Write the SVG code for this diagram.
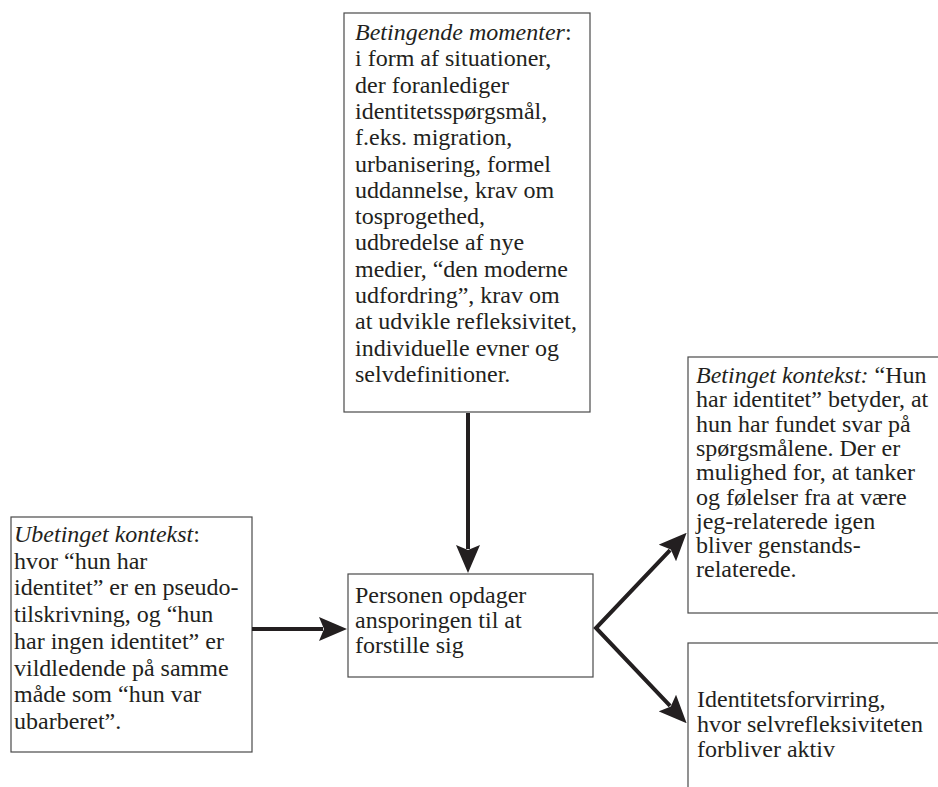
<svg xmlns="http://www.w3.org/2000/svg" width="938" height="787" viewBox="0 0 938 787">
<defs>
<style>
.box{fill:#fff;stroke:#4a4a4a;stroke-width:1.2}
.t{font-family:"Liberation Serif","Times New Roman",serif;font-size:24px;fill:#231f20}
.i{font-style:italic}
.c{fill:none;stroke:#231f20;stroke-width:4;stroke-linejoin:miter;stroke-miterlimit:10}
</style>
<marker id="ah" markerUnits="userSpaceOnUse" viewBox="0 0 28 24" refX="4" refY="12" markerWidth="28" markerHeight="24" orient="auto-start-reverse">
<path d="M0,0 L28,12 L0,24 L5,12 Z" fill="#231f20"/>
</marker>
</defs>
<rect width="938" height="787" fill="#fff"/>

<g id="betingende-momenter">
<rect class="box" x="344" y="13" width="246" height="399"/>
<text class="t" x="355" y="40"><tspan class="i">Betingende momenter</tspan>:<tspan x="355" dy="26.3">i form af situationer,</tspan><tspan x="355" dy="26.3">der foranlediger</tspan><tspan x="355" dy="26.3">identitetsspørgsmål,</tspan><tspan x="355" dy="26.3">f.eks. migration,</tspan><tspan x="355" dy="26.3">urbanisering, formel</tspan><tspan x="355" dy="26.3">uddannelse, krav om</tspan><tspan x="355" dy="26.3">tosprogethed,</tspan><tspan x="355" dy="26.3">udbredelse af nye</tspan><tspan x="355" dy="26.3">medier, “den moderne</tspan><tspan x="355" dy="26.3">udfordring”, krav om</tspan><tspan x="355" dy="26.3">at udvikle refleksivitet,</tspan><tspan x="355" dy="26.3">individuelle evner og</tspan><tspan x="355" dy="26.3">selvdefinitioner.</tspan></text>
</g>

<g id="ubetinget-kontekst">
<rect class="box" x="11" y="517" width="241" height="235"/>
<text class="t" x="14" y="542"><tspan class="i">Ubetinget kontekst</tspan>:<tspan x="14" dy="26.7">hvor “hun har</tspan><tspan x="14" dy="26.7">identitet” er en pseudo-</tspan><tspan x="14" dy="26.7">tilskrivning, og “hun</tspan><tspan x="14" dy="26.7">har ingen identitet” er</tspan><tspan x="14" dy="26.7">vildledende på samme</tspan><tspan x="14" dy="26.7">måde som “hun var</tspan><tspan x="14" dy="26.7">ubarberet”.</tspan></text>
</g>

<g id="personen">
<rect class="box" x="348" y="574" width="245" height="103"/>
<text class="t" x="355" y="603">Personen opdager<tspan x="355" dy="25">ansporingen til at</tspan><tspan x="355" dy="25">forstille sig</tspan></text>
</g>

<g id="betinget-kontekst">
<rect class="box" x="688" y="357" width="260" height="256"/>
<text class="t" x="696" y="383"><tspan class="i">Betinget kontekst:</tspan> “Hun<tspan x="696" dy="24.3">har identitet” betyder, at</tspan><tspan x="696" dy="24.3">hun har fundet svar på</tspan><tspan x="696" dy="24.3">spørgsmålene. Der er</tspan><tspan x="696" dy="24.3">mulighed for, at tanker</tspan><tspan x="696" dy="24.3">og følelser fra at være</tspan><tspan x="696" dy="24.3">jeg-relaterede igen</tspan><tspan x="696" dy="24.3">bliver genstands-</tspan><tspan x="696" dy="24.3">relaterede.</tspan></text>
</g>

<g id="identitetsforvirring">
<rect class="box" x="688" y="643" width="260" height="160"/>
<text class="t" x="697" y="707">Identitetsforvirring,<tspan x="697" dy="25">hvor selvrefleksiviteten</tspan><tspan x="697" dy="25">forbliver aktiv</tspan></text>
</g>

<g id="connectors">
<path class="c" d="M468,413 L468,549" marker-end="url(#ah)"/>
<path class="c" d="M252,629 L323,629" marker-end="url(#ah)"/>
<path class="c" d="M670.1,550.1 L596,628 L670.1,705.9" marker-start="url(#ah)" marker-end="url(#ah)"/>
</g>
</svg>
